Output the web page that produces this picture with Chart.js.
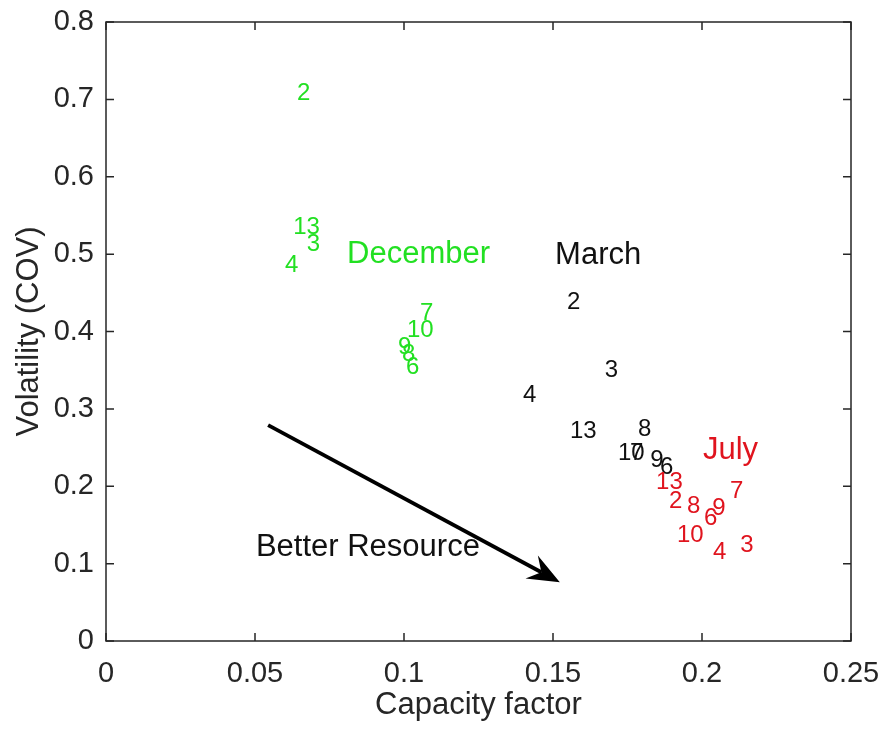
<!DOCTYPE html>
<html>
<head>
<meta charset="utf-8">
<script src="https://cdn.jsdelivr.net/npm/chart.js@4/dist/chart.umd.min.js"></script>
<style>
  html, body { margin: 0; padding: 0; background: #fff; }
  #wrap { width: 884px; height: 732px; }
</style>
</head>
<body>
<div id="wrap"><canvas id="cfChart" width="884" height="732"></canvas></div>
<script>
// site numbers, same order in every month
const siteLabels = ["2", "3", "4", "6", "7", "8", "9", "10", "13"];

// capacity factor (x) and volatility COV (y) per site
const decCapacity = [0.0641, 0.0674, 0.0601, 0.1007, 0.1054, 0.0993, 0.0980, 0.1010, 0.0628];
const decVolatility = [0.708, 0.513, 0.486, 0.354, 0.423, 0.370, 0.379, 0.401, 0.534];
const marCapacity = [0.1547, 0.1674, 0.1399, 0.1859, 0.1758, 0.1785, 0.1826, 0.1718, 0.1557];
const marVolatility = [0.438, 0.350, 0.318, 0.225, 0.243, 0.273, 0.233, 0.243, 0.271];
const julCapacity = [0.1889, 0.2128, 0.2037, 0.2007, 0.2094, 0.1950, 0.2034, 0.1916, 0.1846];
const julVolatility = [0.180, 0.124, 0.115, 0.159, 0.194, 0.174, 0.172, 0.137, 0.205];

// axis ticks
const xTicks = [0, 0.05, 0.1, 0.15, 0.2, 0.25];
const yTicks = [0, 0.1, 0.2, 0.3, 0.4, 0.5, 0.6, 0.7, 0.8];

// text annotations (data coords)
const noteTexts = ["December", "March", "July", "Better Resource"];
const noteX = [0.0809, 0.1507, 0.2003, 0.0503];
const noteY = [0.500, 0.498, 0.246, 0.121];
const noteColors = ["#22e022", "#111111", "#e0141e", "#111111"];

// arrow from -> to
const arrowX = [0.0544, 0.1523];
const arrowY = [0.279, 0.076];

const FONT = "'Liberation Sans', Arial, Helvetica, sans-serif";
const axisColor = "#262626";

function toPoints(xs, ys) {
  return xs.map((x, i) => ({ x: x, y: ys[i] }));
}

// draw numbers as the markers, plus notes and arrow
const textMarks = {
  id: "textMarks",
  afterDatasetsDraw(chart) {
    const ctx = chart.ctx;
    const xs = chart.scales.x, ys = chart.scales.y;
    ctx.save();
    ctx.textAlign = "left";
    ctx.textBaseline = "middle";
    ctx.font = "24px " + FONT;
    chart.data.datasets.forEach((ds, di) => {
      const meta = chart.getDatasetMeta(di);
      ctx.fillStyle = ds.borderColor;
      meta.data.forEach((pt, i) => {
        ctx.fillText(siteLabels[i], pt.x, pt.y);
      });
    });

    ctx.font = "31px " + FONT;
    noteTexts.forEach((t, i) => {
      ctx.fillStyle = noteColors[i];
      ctx.fillText(t, xs.getPixelForValue(noteX[i]), ys.getPixelForValue(noteY[i]));
    });

    // arrow
    const x0 = xs.getPixelForValue(arrowX[0]), y0 = ys.getPixelForValue(arrowY[0]);
    const x1 = xs.getPixelForValue(arrowX[1]), y1 = ys.getPixelForValue(arrowY[1]);
    const ang = Math.atan2(y1 - y0, x1 - x0);
    const headLen = 32, headW = 13, notch = 21;
    const bx = x1 - notch * Math.cos(ang), by = y1 - notch * Math.sin(ang);
    ctx.strokeStyle = "#000";
    ctx.lineWidth = 3.8;
    ctx.beginPath();
    ctx.moveTo(x0, y0);
    ctx.lineTo(bx, by);
    ctx.stroke();
    const hx = x1 - headLen * Math.cos(ang), hy = y1 - headLen * Math.sin(ang);
    const px = -Math.sin(ang), py = Math.cos(ang);
    ctx.fillStyle = "#000";
    ctx.beginPath();
    ctx.moveTo(x1, y1);
    ctx.lineTo(hx + px * headW, hy + py * headW);
    ctx.lineTo(bx, by);
    ctx.lineTo(hx - px * headW, hy - py * headW);
    ctx.closePath();
    ctx.fill();
    ctx.restore();
  },
  afterDraw(chart) {
    // matlab style box with inward ticks on all sides
    const ctx = chart.ctx;
    const a = chart.chartArea;
    const xs = chart.scales.x, ys = chart.scales.y;
    const tl = 8;
    ctx.save();
    ctx.strokeStyle = axisColor;
    ctx.lineWidth = 1.5;
    ctx.strokeRect(a.left, a.top, a.right - a.left, a.bottom - a.top);
    ctx.beginPath();
    xTicks.forEach(v => {
      const x = xs.getPixelForValue(v);
      ctx.moveTo(x, a.bottom); ctx.lineTo(x, a.bottom - tl);
      ctx.moveTo(x, a.top); ctx.lineTo(x, a.top + tl);
    });
    yTicks.forEach(v => {
      const y = ys.getPixelForValue(v);
      ctx.moveTo(a.left, y); ctx.lineTo(a.left + tl, y);
      ctx.moveTo(a.right, y); ctx.lineTo(a.right - tl, y);
    });
    ctx.stroke();
    ctx.restore();
  }
};

// keep the plot box exactly where the layout padding puts it
function noScalePadding(s) {
  s.paddingTop = 0; s.paddingBottom = 0;
  s.paddingLeft = 0; s.paddingRight = 0;
}

const ctx = document.getElementById("cfChart");

new Chart(ctx, {
  type: "scatter",
  data: {
    datasets: [
      { label: "December", data: toPoints(decCapacity, decVolatility), borderColor: "#22e022", backgroundColor: "#22e022" },
      { label: "March", data: toPoints(marCapacity, marVolatility), borderColor: "#111111", backgroundColor: "#111111" },
      { label: "July", data: toPoints(julCapacity, julVolatility), borderColor: "#e0141e", backgroundColor: "#e0141e" }
    ]
  },
  options: {
    responsive: false,
    animation: false,
    events: [],
    elements: { point: { radius: 0, hoverRadius: 0 } },
    layout: { autoPadding: false, padding: { top: 22, right: 33, left: 0, bottom: 0 } },
    plugins: {
      legend: { display: false },
      tooltip: { enabled: false }
    },
    scales: {
      x: {
        type: "linear",
        min: 0,
        max: 0.25,
        afterBuildTicks: s => { s.ticks = xTicks.map(v => ({ value: v })); },
        afterFit: s => { s.height = 91; noScalePadding(s); },
        grid: { display: false, drawTicks: false },
        border: { display: false },
        ticks: {
          color: axisColor,
          font: { family: FONT, size: 29 },
          padding: 16,
          maxRotation: 0,
          callback: v => String(v)
        },
        title: {
          display: true,
          text: "Capacity factor",
          color: axisColor,
          font: { family: FONT, size: 31 },
          padding: { top: 0, bottom: 8 }
        }
      },
      y: {
        type: "linear",
        min: 0,
        max: 0.8,
        afterBuildTicks: s => { s.ticks = yTicks.map(v => ({ value: v })); },
        afterFit: s => { s.width = 106; noScalePadding(s); },
        grid: { display: false, drawTicks: false },
        border: { display: false },
        ticks: {
          color: axisColor,
          font: { family: FONT, size: 29 },
          padding: 12,
          callback: v => String(v)
        },
        title: {
          display: true,
          text: "Volatility (COV)",
          color: axisColor,
          font: { family: FONT, size: 31 },
          padding: { top: 11, bottom: 0 }
        }
      }
    }
  },
  plugins: [textMarks]
});
</script>
</body>
</html>
